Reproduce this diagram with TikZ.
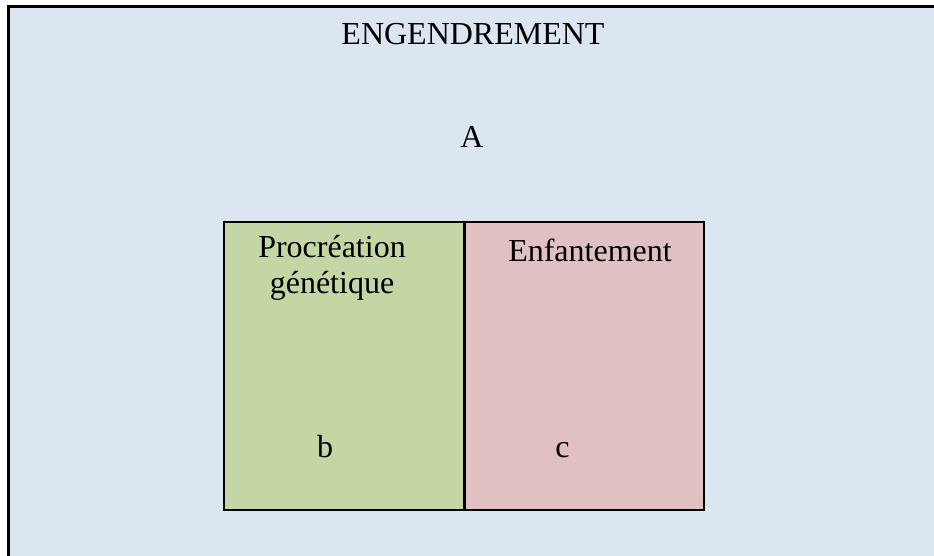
\documentclass[tikz,border=0pt]{standalone}
\usepackage{fontspec}
\setmainfont{Liberation Serif}
\definecolor{bgblue}{RGB}{220,230,241}
\definecolor{boxgreen}{RGB}{195,214,164}
\definecolor{boxpink}{RGB}{224,192,195}
\begin{document}
\begin{tikzpicture}[x=1pt,y=-1pt,
  lbl/.style={font=\fontsize{32}{36}\selectfont, inner sep=0pt, anchor=base},
  panel/.style={draw=black, line width=1.6pt}]
\useasboundingbox (0,0) rectangle (934,555);
\clip (0,0) rectangle (934,555);
\draw[fill=bgblue, draw=black, line width=2.2pt] (8.5,6.5) rectangle (945,570);
\draw[panel, fill=boxgreen] (224,222) rectangle (464.5,510);
\draw[panel, fill=boxpink] (464.5,222) rectangle (704,510);
\draw[black, line width=2.2pt] (464.5,222) -- (464.5,510);
\node[lbl] (title) at (473,44) {ENGENDREMENT};
\node[lbl] (a) at (472,147) {A};
\node[lbl] (p1) at (332,257) {Procréation};
\node[lbl] (p2) at (332,293) {génétique};
\node[lbl] (enf) at (590,261) {Enfantement};
\node[lbl] (b) at (325,457) {b};
\node[lbl] (c) at (562.5,457) {c};
\end{tikzpicture}
\end{document}
